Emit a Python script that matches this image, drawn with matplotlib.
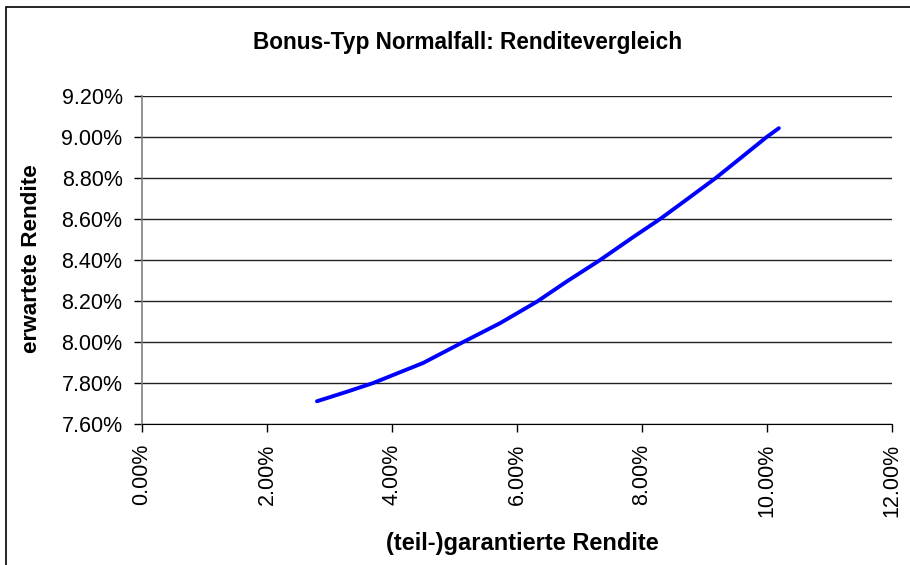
import numpy as np
import matplotlib.pyplot as plt
from matplotlib.patches import Rectangle
from matplotlib.ticker import FuncFormatter

plt.rcParams['font.family'] = ['Liberation Sans', 'DejaVu Sans']

# (teil-)garantierte Rendite in %, erwartete Rendite in %
garantiert = [2.80, 3.275, 3.70, 4.50, 5.14, 5.73, 6.32, 6.795, 7.33, 7.86,
              8.29, 8.715, 9.18, 9.568, 9.995, 10.19]
erwartet = [7.711, 7.757, 7.80, 7.898, 8.00, 8.092, 8.197, 8.295, 8.40, 8.512,
            8.60, 8.695, 8.80, 8.895, 9.00, 9.043]

x_ticks = [0, 2, 4, 6, 8, 10, 12]
y_ticks = [7.6, 7.8, 8.0, 8.2, 8.4, 8.6, 8.8, 9.0, 9.2]

fig = plt.figure(figsize=(9.1, 5.65), dpi=100)
ax = fig.add_axes([142/910, 1-424/565, (892-142)/910, (424-96)/565])

ax.plot(garantiert, erwartet, color='#0000FF', lw=2.8, solid_capstyle='round',
        solid_joinstyle='round')

ax.set_xlim(0, 12)
ax.set_ylim(7.6, 9.2)
ax.set_xticks(x_ticks)
ax.set_yticks(y_ticks)
pct = FuncFormatter(lambda v, p: '%.2f%%' % v)
ax.xaxis.set_major_formatter(pct)
ax.yaxis.set_major_formatter(pct)
ax.tick_params(axis='x', labelrotation=90, labelsize=15.5, length=6, width=1, direction='out', pad=8)
ax.tick_params(axis='y', labelsize=15.5, length=6, width=1, direction='out', pad=8)

ax.grid(axis='y', color='#222222', lw=1)
ax.set_axisbelow(True)
ax.spines['top'].set_visible(False)
ax.spines['right'].set_visible(False)
ax.spines['left'].set_color('#808080')
ax.spines['left'].set_linewidth(1.2)
ax.spines['bottom'].set_color('black')

fig.text(468/910, 1-49/565, 'Bonus-Typ Normalfall: Renditevergleich',
         ha='center', va='baseline', fontsize=16.3, fontweight='bold')
fig.text(522/910, 1-550/565, '(teil-)garantierte Rendite',
         ha='center', va='baseline', fontsize=17, fontweight='bold')
fig.text(32/910, 1-259/565, 'erwartete Rendite', rotation=90,
         ha='center', va='center', fontsize=16.2, fontweight='bold')

# Rahmen um das Diagramm
fig.patches.append(Rectangle((6/910, -0.1), 1.2, 1-7/565+0.1, transform=fig.transFigure,
                             fill=False, edgecolor='black', lw=1.2))

fig.savefig('out.png', dpi=100)
